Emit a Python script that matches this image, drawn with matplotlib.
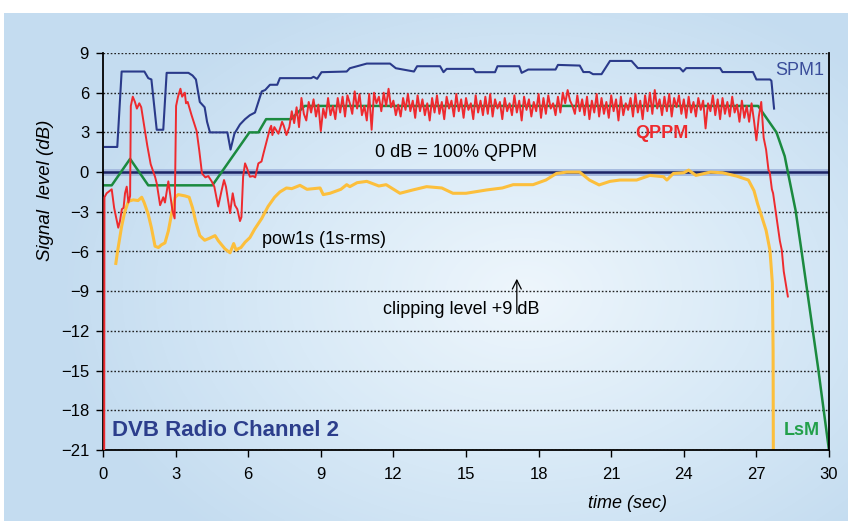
import numpy as np
import matplotlib.pyplot as plt
from matplotlib.colors import LinearSegmentedColormap

plt.rcParams['font.family'] = ['Liberation Sans', 'DejaVu Sans']

# SPM1 (navy, stepwise)
spm_t = [0.08, 0.59, 0.77, 1.71, 1.87, 2.0, 2.22, 2.49, 2.63, 3.53, 3.7, 3.84, 4.0, 4.2, 4.3,
         4.42, 5.14, 5.27, 5.43, 5.66, 5.87, 6.07, 6.28, 6.42, 6.56, 6.7, 6.9, 7.2, 7.31, 8.6,
         8.7, 8.85, 9.03, 10.07, 10.2, 10.9, 11.86, 12.1, 12.4, 12.85, 12.98, 13.93, 14.07, 14.2,
         15.3, 15.4, 16.2, 16.3, 17.2, 17.3, 17.57, 18.7, 18.8, 19.7, 19.85, 20.1, 20.25, 20.6,
         20.95, 21.84, 22.1, 23.84, 23.97, 24.1, 25.5, 25.6, 26.86, 27.0, 27.56, 27.62, 27.73]
spm_v = [1.9, 1.9, 7.6, 7.6, 7.1, 7.0, 3.2, 3.2, 7.5, 7.5, 7.3, 7.0, 5.3, 4.9, 3.8,
         3.0, 3.0, 1.7, 2.9, 3.6, 4.0, 4.3, 4.5, 5.3, 6.1, 6.2, 6.6, 6.6, 7.1, 7.1,
         7.2, 7.05, 7.55, 7.6, 7.85, 8.2, 8.2, 7.85, 7.75, 7.6, 8.0, 8.0, 7.55, 7.8,
         7.8, 7.55, 7.55, 8.0, 8.0, 7.5, 7.75, 7.75, 8.1, 8.05, 7.56, 7.56, 7.4, 7.4,
         8.4, 8.4, 7.86, 7.86, 7.6, 7.86, 7.86, 7.56, 7.56, 7.0, 7.0, 6.9, 4.8]

# QPPM (red): start-up part, the busy middle sampled every 0.1 s, and the fade-out
qppm_head_t = [0.05, 0.06, 0.15, 0.36, 0.46, 0.63, 0.7, 0.78, 0.85, 0.91, 0.98, 1.05, 1.12,
               1.15, 1.23, 1.32, 1.4, 1.5, 1.58, 1.71, 1.83, 1.97, 2.15, 2.22, 2.36, 2.49,
               2.56, 2.7, 2.77, 2.87, 2.96, 3.02, 3.1, 3.2, 3.27, 3.38, 3.43, 3.5, 3.66,
               3.87, 3.98, 4.09, 4.23, 4.35, 4.49, 4.6, 4.76, 4.9, 5.0, 5.08, 5.18, 5.25,
               5.36, 5.45, 5.55, 5.66, 5.72, 5.79, 5.87, 5.95, 6.07, 6.2, 6.29, 6.42, 6.55,
               6.63, 6.76, 6.9, 6.95, 7.0, 7.08, 7.25, 7.4, 7.47, 7.58, 7.7]
qppm_head_v = [-21.5, -1.9, -1.6, -1.3, -2.7, -4.2, -3.7, -2.8, -2.7, -1.6, -1.1, -2.3, -1.8,
               5.0, 5.7, 5.3, 4.8, 5.2, 4.9, 3.4, 2.0, 0.6, -0.35, -0.85, -2.5, -1.9,
               -2.3, -0.7, -1.6, -2.9, -3.5, 5.0, 5.7, 6.3, 5.7, 6.0, 5.2, 5.3, 4.3,
               3.1, 1.6, -0.1, -0.4, -0.3, -0.7, -1.1, -2.6, -1.4, -0.6, -1.1, -2.3, -3.1,
               -1.6, -2.5, -2.8, -3.7, -3.4, -0.35, 0.66, 0.3, -0.35, -0.3, -0.4, 0.66, 0.8,
               1.4, 2.3, 3.3, 3.5, 2.8, 3.4, 2.9, 3.8, 3.5, 2.8, 3.4]
qppm_mid_start = 7.8
qppm_mid_v = [4.6, 3.7, 4.9, 3.4, 5.6, 4.4, 3.9, 5.3, 4.5, 5.5,
              4.2, 5.1, 3.1, 4.8, 4.1, 5.6, 4.3, 5.0, 4.0, 5.6,
              4.5, 5.7, 4.2, 5.8, 5.2, 4.4, 6.1, 4.8, 5.9, 4.3,
              5.0, 3.9, 5.9, 3.2, 6.0, 5.2, 5.7, 4.6, 6.0, 5.0,
              6.3, 4.9, 5.4, 4.3, 5.1, 4.2, 5.6, 4.7, 5.9, 4.6,
              5.4, 4.1, 5.8, 4.6, 5.5, 4.3, 5.2, 3.9, 5.6, 4.5,
              5.8, 4.4, 5.3, 4.0, 5.7, 4.8, 5.4, 4.2, 5.9, 4.6,
              5.5, 4.1, 5.6, 4.7, 5.2, 4.0, 5.8, 4.5, 5.4, 4.3,
              5.7, 4.4, 5.9, 4.2, 5.5, 4.8, 5.3, 4.0, 5.6, 4.6,
              5.2, 4.3, 5.8, 4.5, 5.4, 3.9, 5.7, 4.7, 5.5, 4.2,
              5.3, 4.6, 5.9, 4.1, 5.6, 4.4, 5.8, 4.8, 5.2, 4.3,
              5.7, 4.5, 6.0, 5.2, 6.2, 5.4, 5.0, 4.4, 5.8, 4.6,
              5.5, 4.3, 5.7, 4.0, 5.4, 4.5, 5.9, 4.2, 5.6, 4.4,
              5.3, 4.1, 5.8, 4.6, 5.5, 3.9, 5.7, 4.3, 5.2, 4.7,
              5.6, 4.2, 5.9, 4.5, 5.4, 4.0, 5.8, 4.6, 6.0, 4.4,
              6.2, 4.8, 5.5, 4.3, 5.7, 4.6, 5.9, 4.2, 5.6, 4.9,
              5.8, 4.4, 5.5, 4.1, 5.7, 4.5, 5.3, 4.2, 5.6, 4.7,
              5.4, 3.3, 5.2, 4.6, 5.8, 4.3, 5.5, 4.0, 5.6, 4.4,
              5.3, 4.2, 5.7, 4.5, 5.1, 3.8, 5.4, 4.1, 5.0, 3.8,
              5.2, 3.9]
qppm_tail_t = [27.0, 27.1, 27.2, 27.3, 27.4, 27.5, 27.55, 27.64, 27.69, 27.83, 27.97,
               28.05, 28.13, 28.3]
qppm_tail_v = [2.4, 4.2, 5.3, 2.6, 1.7, 0.15, 0.0, -1.3, -1.6, -3.4, -5.2, -5.9, -7.5, -9.4]

# LsM (green)
lsm_t = [0.0, 0.36, 1.12, 1.87, 4.52, 6.05, 6.42, 6.74, 7.77, 8.33, 27.07, 27.83, 28.17,
         28.3, 28.62, 28.86, 29.55, 30.02]
lsm_v = [-1.0, -1.0, 1.0, -1.0, -1.0, 3.0, 3.0, 4.0, 4.0, 5.0, 5.0, 3.0, 1.2,
         0.0, -2.9, -5.9, -14.8, -21.3]

# pow1s (yellow)
pow_t = [0.53, 0.6, 0.77, 0.9, 1.05, 1.25, 1.45, 1.6, 1.7, 1.87, 2.0, 2.15, 2.29, 2.41,
         2.56, 2.7, 2.84, 2.98, 3.11, 3.39, 3.56, 3.7, 3.84, 4.0, 4.2, 4.4, 4.63, 4.77,
         5.04, 5.25, 5.4, 5.5, 5.58, 5.7, 5.87, 6.07, 6.27, 6.56, 6.82, 7.09, 7.31, 7.58,
         7.8, 8.14, 8.43, 8.97, 9.1, 9.38, 9.83, 10.07, 10.2, 10.5, 10.9, 11.4, 11.7,
         12.27, 12.8, 13.37, 14.0, 14.46, 15.0, 15.85, 16.5, 16.95, 17.77, 18.3, 18.74,
         19.16, 19.7, 20.1, 20.5, 20.95, 21.36, 22.05, 22.6, 23.16, 23.3, 23.57, 24.0,
         24.2, 24.5, 25.1, 25.6, 26.18, 26.67, 26.9, 27.05, 27.21, 27.4, 27.56, 27.66,
         27.69, 27.7]
pow_v = [-6.9, -6.0, -4.1, -3.0, -2.2, -2.1, -2.15, -1.9, -2.3, -3.2, -4.2, -5.6, -5.7, -5.5,
         -5.35, -4.45, -3.1, -1.9, -1.7, -1.8, -1.9, -2.7, -3.8, -4.8, -5.15, -5.0, -4.8, -5.2,
         -5.8, -6.1, -5.4, -5.9, -5.8, -5.7, -5.3, -4.95, -4.3, -3.5, -2.6, -1.9, -1.5, -1.2,
         -1.25, -1.0, -1.3, -1.2, -1.7, -1.6, -1.3, -0.95, -1.1, -0.8, -0.7, -1.05, -0.95,
         -1.6, -1.35, -1.1, -1.2, -1.6, -1.6, -1.35, -1.2, -0.95, -0.95, -0.6, -0.1,
         0.0, 0.0, -0.6, -0.97, -0.7, -0.6, -0.6, -0.25, -0.35, -0.6, -0.1, -0.05,
         0.15, -0.25, 0.0, -0.05, -0.3, -0.6, -1.4, -2.4, -3.3, -4.4, -5.9, -8.4,
         -13.5, -21.5]

qppm_mid_t = qppm_mid_start + 0.1 * np.arange(len(qppm_mid_v))
qppm_t = np.concatenate([qppm_head_t, qppm_mid_t, qppm_tail_t])
qppm_v = np.concatenate([qppm_head_v, qppm_mid_v, qppm_tail_v])

fig = plt.figure(figsize=(8.48, 5.21), dpi=100)

# light blue radial background
bg = fig.add_axes([4 / 848, 0, 1 - 4 / 848, 1 - 13 / 521])
bg.axis('off')
yy, xx = np.mgrid[0:508, 0:844]
r = np.clip(np.sqrt(((xx - 520) / 470.0) ** 2 + ((yy - 280) / 330.0) ** 2), 0, 1)
cmap = LinearSegmentedColormap.from_list('bg', ['#eef6fc', '#d9eaf7', '#c4dcf0'])
bg.imshow(r, cmap=cmap, aspect='auto', interpolation='bilinear')

ax = fig.add_axes([103 / 848, 71 / 521, 726 / 848, 397 / 521])
ax.patch.set_alpha(0)

ax.set_xlim(0, 30)
ax.set_ylim(-21, 9)
ax.set_xticks(range(0, 31, 3))
ax.set_yticks(range(-21, 10, 3))
ax.tick_params(direction='out', length=5, width=1, labelsize=12, pad=5)
ax.tick_params(axis='x', pad=7)
ax.spines['top'].set_visible(False)
for s in ['left', 'right', 'bottom']:
    ax.spines[s].set_linewidth(1.3)

ax.yaxis.grid(True, color='#222222', lw=1, ls=(0, (1.2, 1.4)))
ax.set_axisbelow(True)

ax.axhline(0, color='#a6bbdf', lw=5, zorder=1.5)
ax.axhline(0, color='#1c2466', lw=1.8, zorder=1.6)

ax.plot(pow_t, pow_v, color='#fcbf3c', lw=2.2, zorder=2)
ax.plot(lsm_t, lsm_v, color='#1b8a3f', lw=1.8, zorder=2.2)
ax.plot(spm_t, spm_v, color='#2a3a8a', lw=1.5, zorder=2.4)
ax.plot(qppm_t, qppm_v, color='#ee2a2e', lw=1.4, zorder=3)

ax.text(28.8, 7.7, 'SPM1', color='#3a4d9a', fontsize=13, ha='center', va='center')
ax.text(23.1, 2.95, 'QPPM', color='#ee2a2e', fontsize=13, fontweight='bold',
        ha='center', va='center')
ax.text(14.6, 1.5, '0 dB = 100% QPPM', fontsize=13, ha='center', va='center')
ax.text(6.55, -5.1, 'pow1s (1s-rms)', fontsize=13, ha='left', va='center')
ax.text(14.8, -10.4, 'clipping level +9 dB', fontsize=13, ha='center', va='center')
ax.annotate('', xy=(17.1, -7.85), xytext=(17.1, -10.9),
            arrowprops=dict(arrowstyle='->', lw=0.9, color='black', mutation_scale=16))
ax.text(0.36, -19.55, 'DVB Radio Channel 2', color='#2c3e8c', fontsize=16,
        fontweight='bold', ha='left', va='center')
ax.text(28.88, -19.5, 'LsM', color='#22a04a', fontsize=13, fontweight='bold',
        ha='center', va='center')

fig.text(627 / 848, 1 - 503 / 521, 'time (sec)', fontsize=13, style='italic',
         ha='center', va='center')
fig.text(45 / 848, 1 - 190 / 521, 'Signal  level (dB)', fontsize=13.5, style='italic',
         rotation=90, ha='center', va='center')

fig.savefig('out.png', dpi=100)
